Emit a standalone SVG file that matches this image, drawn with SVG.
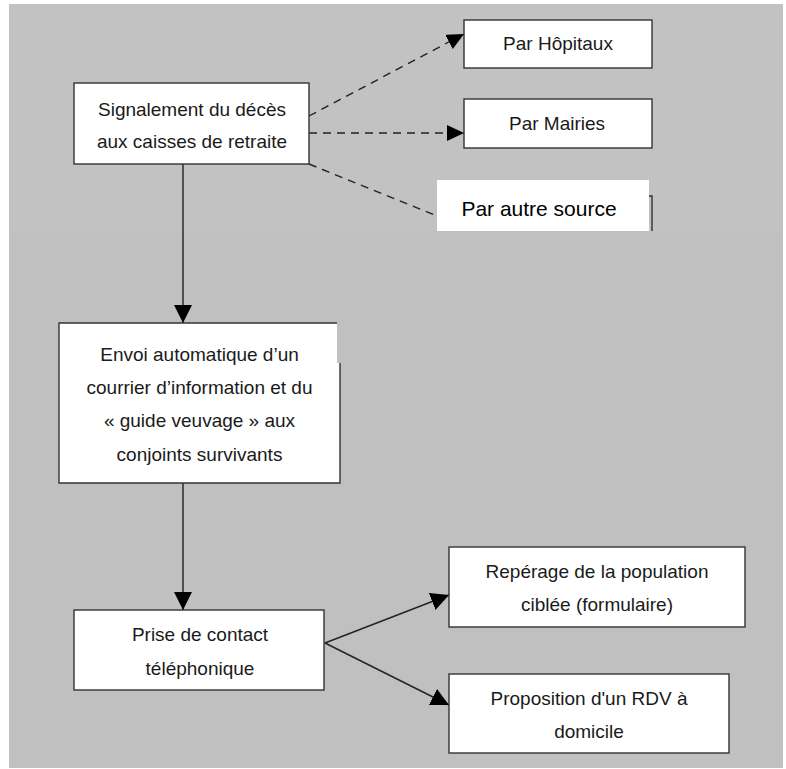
<svg xmlns="http://www.w3.org/2000/svg" width="786" height="769" viewBox="0 0 786 769">
<style>
.box{fill:#ffffff;stroke:#333333;stroke-width:1.4}
.t{font-family:"Liberation Sans",Arial,sans-serif;font-size:19px;fill:#1a1a1a;text-anchor:middle}
.c{fill:none;stroke:#222222;stroke-width:1.4}
.d{stroke-dasharray:8 6}
</style>
<defs>
<marker id="ah" viewBox="0 0 18 18" refX="18" refY="9" markerWidth="18" markerHeight="18" markerUnits="userSpaceOnUse" orient="auto">
<path d="M0,0 L18,9 L0,18 Z" fill="#000000"/>
</marker>
<marker id="ahs" viewBox="0 0 17 16" refX="17" refY="8" markerWidth="17" markerHeight="16" markerUnits="userSpaceOnUse" orient="auto">
<path d="M0,0 L17,8 L0,16 Z" fill="#000000"/>
</marker>
</defs>
<rect x="0" y="0" width="786" height="769" fill="#ffffff"/>
<rect x="9" y="4" width="774" height="764" fill="#c0c0c0"/>
<rect x="9" y="4" width="774" height="227" fill="#c2c2c2"/>

<g id="connectors">
<line class="c" x1="183" y1="164" x2="183" y2="323" marker-end="url(#ah)"/>
<line class="c" x1="183" y1="483" x2="183" y2="610" marker-end="url(#ah)"/>
<line class="c" x1="325" y1="643" x2="449" y2="595" marker-end="url(#ah)"/>
<line class="c" x1="325" y1="643" x2="449" y2="705" marker-end="url(#ah)"/>
<line class="c d" x1="309" y1="116" x2="464" y2="34" marker-end="url(#ahs)"/>
<line class="c d" x1="309" y1="133" x2="464" y2="133" marker-end="url(#ahs)"/>
<line class="c d" x1="309" y1="164" x2="437" y2="216"/>
</g>

<g id="signalement">
<rect class="box" x="74" y="83" width="235" height="81"/>
<text class="t" x="192" y="115.5">Signalement du décès</text>
<text class="t" x="192" y="147.5">aux caisses de retraite</text>
</g>

<g id="hopitaux">
<rect class="box" x="464" y="20" width="188" height="48"/>
<text class="t" x="558" y="50">Par Hôpitaux</text>
</g>

<g id="mairies">
<rect class="box" x="464" y="99" width="188" height="49"/>
<text class="t" x="557" y="129.5">Par Mairies</text>
</g>

<g id="autre-source">
<path d="M649,196 H652 V231" fill="none" stroke="#333333" stroke-width="1.4"/>
<rect x="437" y="180" width="212" height="51" fill="#ffffff"/>
<text x="539" y="216" font-family="'Liberation Sans',Arial,sans-serif" font-size="21" fill="#000000" text-anchor="middle">Par autre source</text>
</g>

<g id="envoi">
<rect x="59" y="323" width="278" height="160" fill="#ffffff"/>
<rect x="59" y="363" width="281" height="120" fill="#ffffff"/>
<path d="M337,323 H59 V483 H340 V363" fill="none" stroke="#333333" stroke-width="1.4"/>
<text class="t" x="199.5" y="360.5">Envoi automatique d’un</text>
<text class="t" x="199.5" y="393.5">courrier d’information et du</text>
<text class="t" x="199.5" y="427">« guide veuvage » aux</text>
<text class="t" x="199.5" y="461">conjoints survivants</text>
</g>

<g id="prise-contact">
<rect class="box" x="74" y="610" width="250" height="80"/>
<text class="t" x="200" y="641">Prise de contact</text>
<text class="t" x="200" y="675">téléphonique</text>
</g>

<g id="reperage">
<rect class="box" x="449" y="547" width="296" height="80"/>
<text class="t" x="597" y="578">Repérage de la population</text>
<text class="t" x="597" y="611">ciblée (formulaire)</text>
</g>

<g id="proposition">
<rect class="box" x="449" y="674" width="280" height="79"/>
<text class="t" x="589" y="705">Proposition d'un RDV à</text>
<text class="t" x="589" y="738">domicile</text>
</g>
</svg>
